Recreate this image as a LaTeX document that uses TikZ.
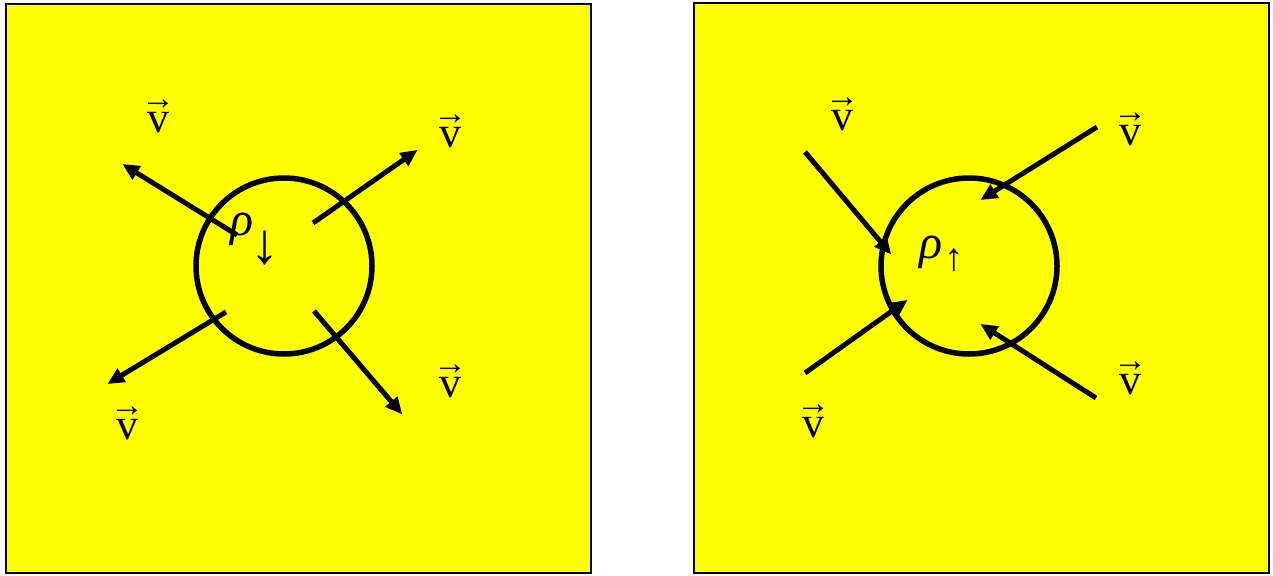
\documentclass[tikz,border=0pt]{standalone}
\usepackage{fontspec}
\setmainfont{Liberation Serif}
\usetikzlibrary{arrows.meta}
\definecolor{panelyellow}{RGB}{255,255,0}
\newcommand{\velvec}{\leavevmode\hbox{\ooalign{v\cr\hidewidth\raisebox{23pt}{\fontsize{34}{34}\selectfont →}\hidewidth\cr}}}
\tikzset{
  panel/.style={draw=black, line width=2.5pt, fill=panelyellow},
  ring/.style={draw=black, line width=5.5pt, circle, minimum size=176pt, inner sep=0pt},
  vel/.style={draw=black, line width=5pt, -{Triangle[length=17pt,width=15pt]}, shorten >=-2pt},
  vlabel/.style={inner sep=0pt, font=\fontsize{44}{48}\selectfont},
  rholabel/.style={inner sep=0pt, font=\fontsize{48}{52}\selectfont\itshape},
  arrlabel/.style={inner sep=0pt, font=\fontsize{58}{60}\selectfont}
}
\begin{document}
\begin{tikzpicture}[x=1pt,y=-1pt]
\useasboundingbox (0,0) rectangle (1273,575);
% panels
\draw[panel] (6,4) rectangle (591,573);
\draw[panel] (694,3) rectangle (1269,573);
% left panel
\node[ring] (cL) at (284,266) {};
\coordinate (L1s) at (237,235); \coordinate (L1e) at (124,165);
\coordinate (L2s) at (313,223); \coordinate (L2e) at (416,151);
\coordinate (L3s) at (226,312); \coordinate (L3e) at (109,383);
\coordinate (L4s) at (314,311); \coordinate (L4e) at (401,413);
\draw[vel] (L1s) -- (L1e);
\draw[vel] (L2s) -- (L2e);
\draw[vel] (L3s) -- (L3e);
\draw[vel] (L4s) -- (L4e);
\node[vlabel] (vL1) at (158,122) {\velvec};
\node[vlabel] (vL2) at (450,137) {\velvec};
\node[vlabel] (vL3) at (127,429) {\velvec};
\node[vlabel] (vL4) at (450,387) {\velvec};
\node[rholabel] (rhoL) at (242,229) {ρ};
\node[arrlabel] (dnL) at (265,248) {↓};
% right panel
\node[ring] (cR) at (969,266) {};
\coordinate (R1s) at (805,152); \coordinate (R1e) at (890,253);
\coordinate (R2s) at (1097,127); \coordinate (R2e) at (982,199);
\coordinate (R3s) at (805,373); \coordinate (R3e) at (906,301);
\coordinate (R4s) at (1096,398); \coordinate (R4e) at (982,325);
\draw[vel] (R1s) -- (R1e);
\draw[vel] (R2s) -- (R2e);
\draw[vel] (R3s) -- (R3e);
\draw[vel] (R4s) -- (R4e);
\node[vlabel] (vR1) at (842,120) {\velvec};
\node[vlabel] (vR2) at (1130,135) {\velvec};
\node[vlabel] (vR3) at (813,427) {\velvec};
\node[vlabel] (vR4) at (1130,384) {\velvec};
\node[rholabel] (rhoR) at (931,252) {ρ};
\node[arrlabel, font=\fontsize{39}{42}\selectfont] (upR) at (954,260) {↑};
\end{tikzpicture}
\end{document}
